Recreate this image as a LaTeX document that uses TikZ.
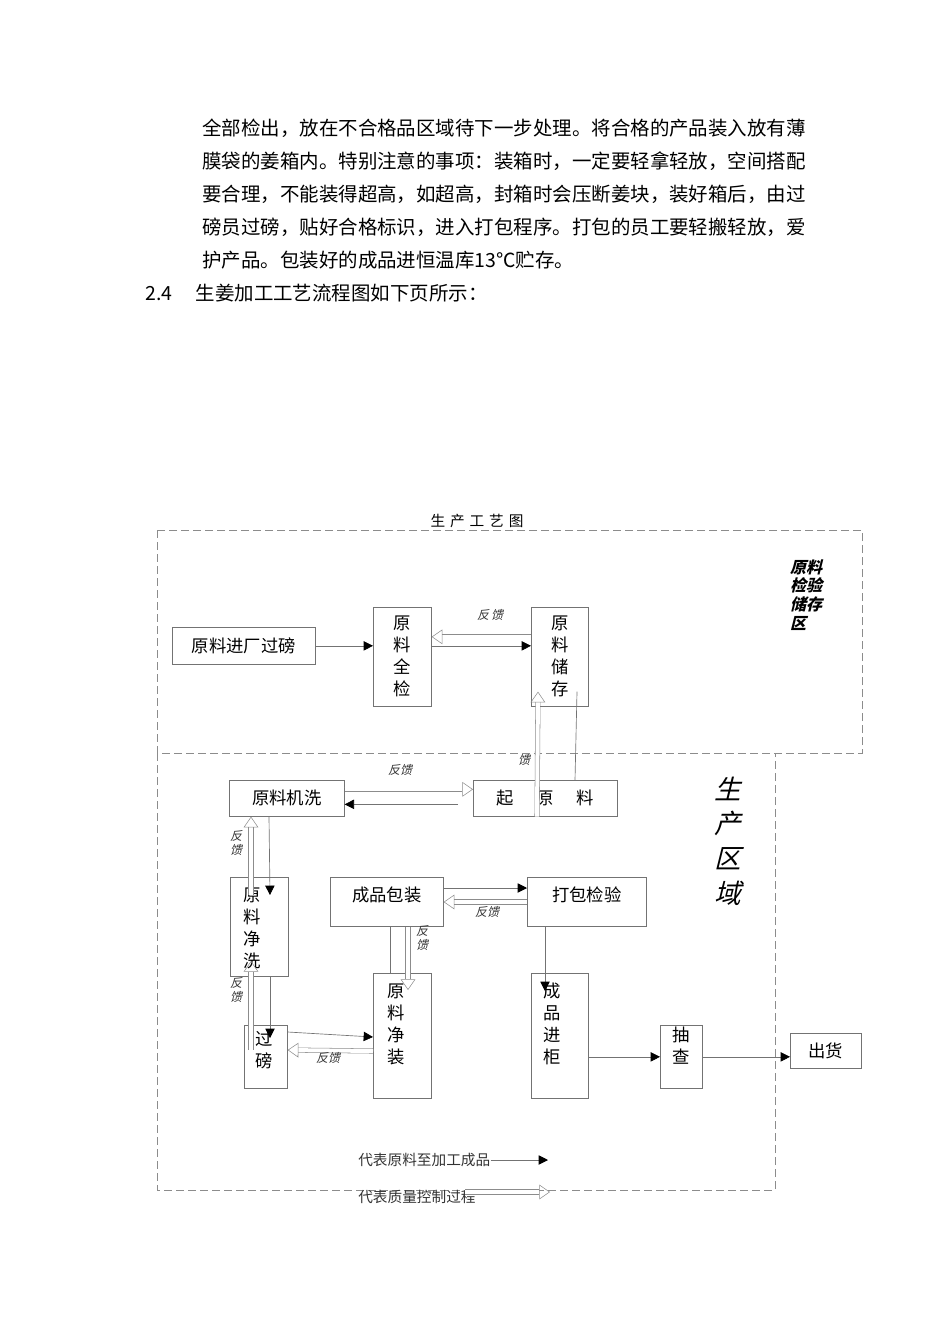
\documentclass[tikz,border=0pt]{standalone}
\usepackage{fontspec}
\setmainfont{Noto Sans CJK SC}
\newfontfamily\slcjk[FakeSlant=0.25]{Noto Sans CJK SC}
\usetikzlibrary{arrows.meta,calc}
\begin{document}
\begin{tikzpicture}[x=0.75pt,y=-0.75pt,
  every node/.style={font=\fontsize{13}{16.5}\selectfont,inner sep=0pt,align=center},
  box/.style={draw=black!55,line width=0.5pt,anchor=north west,align=center},
  body/.style={anchor=west,font=\fontsize{14.6}{16}\selectfont},
  flow/.style={draw=black!55,line width=0.5pt,-{Triangle[length=7pt,width=7pt,fill=black,color=black]}},
  fb/.style={draw=black!45,line width=0.4pt,double=white,double distance=3pt,-{Triangle[open,length=8pt,width=11pt,color=black!45]}},
  fblab/.style={font=\fontsize{9}{10}\selectfont\slcjk,text=black!80},
  zone/.style={draw=black!45,dashed,dash pattern=on 6pt off 3pt,line width=0.5pt}]
\useasboundingbox (0,0) rectangle (950,1344);
% body text
\node[body] (t1) at (202,128) {全部检出，放在不合格品区域待下一步处理。将合格的产品装入放有薄};
\node[body] (t2) at (202,161) {膜袋的姜箱内。特别注意的事项：装箱时，一定要轻拿轻放，空间搭配};
\node[body] (t3) at (202,194) {要合理，不能装得超高，如超高，封箱时会压断姜块，装好箱后，由过};
\node[body] (t4) at (202,227) {磅员过磅，贴好合格标识，进入打包程序。打包的员工要轻搬轻放，爱};
\node[body] (t5) at (202,260) {护产品。包装好的成品进恒温库13℃贮存。};
\node[body] (t6) at (145,293) {2.4\hspace{1.2em}生姜加工工艺流程图如下页所示：};
% zones
\node (title) at (477,521) {\fontsize{11}{12}\selectfont 生\,\,产\,\,工\,\,艺\,\,图};
\draw[zone] (157,530) rectangle (862,753);
\draw[zone] (157,753) -- (157,1190) -- (775,1190) -- (775,753);
\node[align=left,font=\fontsize{12}{14}\selectfont\slcjk\bfseries] (z1) at (806,595) {原料\\检验\\储存\\区};
\node[font=\fontsize{20}{26}\selectfont\slcjk] (z2) at (728,841) {生\\产\\区\\域};
% boxes
\node[box,minimum width=107pt,minimum height=27.75pt] (inw) at (172,627) {原料进厂过磅};
\node[box,minimum width=43.5pt,minimum height=74.25pt] (qj) at (373,607) {原\\料\\全\\检};
\node[box,minimum width=42.75pt,minimum height=74.25pt] (cc) at (531,607) {原\\料\\储\\存};
\node[box,minimum width=86.25pt,minimum height=27pt] (jx) at (229,780) {原料机洗};
\node[box,minimum width=108pt,minimum height=27pt] (ql) at (473,780) {起\hspace{1.3em}原\hspace{1.3em}料};
\node[box,minimum width=84.75pt,minimum height=36.75pt,text depth=12pt] (bz) at (330,877) {成品包装};
\node[box,minimum width=89.25pt,minimum height=36.75pt,text depth=12pt] (db) at (527,877) {打包检验};
\node[box,minimum width=43.5pt,minimum height=74.25pt] (jxi) at (230,877) {};
\node (jxit) at (252,928) {原\\料\\净\\洗};
\node[box,minimum width=32.25pt,minimum height=47.25pt] (gb) at (244,1025) {};
\node (gbt) at (264,1050) {过\\磅};
\node[box,minimum width=43.5pt,minimum height=93.75pt] (jz) at (373,973) {};
\node (jzt) at (396,1024) {原\\料\\净\\装};
\node[box,minimum width=42.75pt,minimum height=93.75pt] (jg) at (531,973) {};
\node (jgt) at (552,1024) {成\\品\\进\\柜};
\node[box,minimum width=31.5pt,minimum height=47.25pt] (cz) at (660,1025) {};
\node (czt) at (681,1046) {抽\\查};
\node[box,minimum width=53.25pt,minimum height=26.25pt] (ch) at (790,1033) {出货};
% flows
\draw[flow] (inw.east) -- (qj.west|-inw.east);
\draw[flow] (qj.east|-inw.east) -- (cc.west|-inw.east);
\draw[fb] ($(cc.west)+(0,-20)$) -- ($(qj.east)+(0,-20)$);
\node[fblab] (l1) at (490,615) {反\,馈};
\draw[black!55,line width=0.5pt] ($(ql.north west)+(102,0)$) -- ($(cc.south west)+(46,-15)$);
\draw[fb] ($(ql.south west)+(64,0)$) -- ($(cc.south west)+(7,-15)$);
\node[fblab] (l2) at (524,760) {馈};
\draw[fb] ($(jx.east)+(0,-9)$) -- ($(ql.west)+(0,-9)$);
\node[fblab] (l3) at (400,770) {反馈};
\draw[flow] ($(ql.west)+(-15,6)$) -- ($(jx.east)+(0,6)$);
\draw[flow] ($(jx.south west)+(40,0)$) -- (270,895);
\draw[fb] (251,895) -- ($(jx.south west)+(22,0)$);
\node[fblab] (l4) at (236,843) {反\\馈};
\draw[flow] (270,976) -- (270,1038);
\draw[fb] (251,1050) -- (251,961);
\node[fblab] (l5) at (236,990) {反\\馈};
\draw[flow] ($(gb.north east)+(0,7)$) -- ($(jz.north west)+(0,64)$);
\draw[fb] ($(jz.north west)+(0,78)$) -- ($(gb.north east)+(0,25)$);
\node[fblab] (l6) at (328,1058) {反馈};
\draw[flow] ($(bz.north east)+(0,11)$) -- ($(db.north west)+(0,11)$);
\draw[fb] ($(db.north west)+(0,25)$) -- ($(bz.north east)+(0,25)$);
\node[fblab] (l7) at (487,912) {反馈};
\draw[black!55,line width=0.5pt] ($(bz.south west)+(60,0)$) -- ($(jz.north west)+(17,0)$);
\draw[fb] ($(bz.south west)+(78,0)$) -- ($(jz.north west)+(35,17)$);
\node[fblab] (l8) at (422,938) {反\\馈};
\draw[flow] ($(db.south west)+(18,0)$) -- ($(jg.north west)+(14,18)$);
\draw[flow] (jg.east|-cz.west) -- (cz.west);
\draw[flow] (cz.east) -- (ch.west|-cz.east);
% legend
\node[anchor=west,text=black!80] (lg1) at (358,1160) {\fontsize{11}{12}\selectfont 代表原料至加工成品};
\coordinate (lg1e) at (548,1160);
\draw[flow] (lg1.east) -- (lg1e);
\node[anchor=west,text=black!80] (lg2) at (358,1197) {\fontsize{11}{12}\selectfont 代表质量控制过程};
\coordinate (lg2s) at (465,1192);
\coordinate (lg2e) at (550,1192);
\draw[fb] (lg2s) -- (lg2e);
\end{tikzpicture}
\end{document}
